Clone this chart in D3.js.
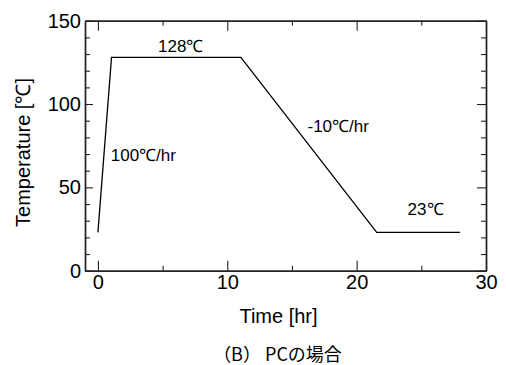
<!DOCTYPE html>
<html>
<head>
<meta charset="utf-8">
<script src="https://cdn.jsdelivr.net/npm/d3@7"></script>
<style>
  html, body { margin: 0; padding: 0; background: #fff; }
  svg { display: block; }
</style>
</head>
<body>
<svg id="chart" width="506" height="365"></svg>
<script>
// temperature profile (time in hr, temperature in degC)
const times = [0, 1.05, 11.05, 21.55, 28];
const temps = [23, 128, 128, 23, 23];

const xMajor = [0, 10, 20, 30];
const xMinor = [5, 15, 25];
const yMajor = [0, 50, 100, 150];
const yMinor = [10, 20, 30, 40, 60, 70, 80, 90, 110, 120, 130, 140];

// annotation texts, anchored in data units
const noteText = ["128℃", "100℃/hr", "-10℃/hr", "23℃"];
const noteX = [6.4, 0.99, 16.2, 23.94];
const noteY = [131.0, 65.8, 83.4, 33.2];
const noteAnchor = ["middle", "start", "start", "start"];

const FONT = "Liberation Sans";

const svg = d3.select("#chart");
const x = d3.scaleLinear().domain([-1, 30]).range([85, 486]);
const y = d3.scaleLinear().domain([0, 150]).range([270.7, 20.7]);

const axisColor = "#222";

function styleAxis(g) {
    g.attr("font-family", FONT).attr("font-size", 20);
    g.selectAll("path.domain").attr("stroke", axisColor).attr("stroke-width", 1.4);
    g.selectAll(".tick line").attr("stroke", axisColor).attr("stroke-width", 1.1);
    g.selectAll(".tick text").attr("fill", "#000");
}

// bottom
svg.append("g").attr("transform", `translate(0,${y(0)})`)
    .call(d3.axisBottom(x).tickValues(xMajor).tickSizeInner(-10).tickSizeOuter(0).tickPadding(4))
    .call(styleAxis);
svg.append("g").attr("transform", `translate(0,${y(0)})`)
    .call(d3.axisBottom(x).tickValues(xMinor).tickSizeInner(-5).tickSizeOuter(0).tickFormat(""))
    .call(styleAxis);
// top
svg.append("g").attr("transform", `translate(0,${y(150)})`)
    .call(d3.axisTop(x).tickValues(xMajor).tickSizeInner(-10).tickSizeOuter(0).tickFormat(""))
    .call(styleAxis);
svg.append("g").attr("transform", `translate(0,${y(150)})`)
    .call(d3.axisTop(x).tickValues(xMinor).tickSizeInner(-5).tickSizeOuter(0).tickFormat(""))
    .call(styleAxis);
// left
svg.append("g").attr("transform", `translate(${x(-1)},0)`)
    .call(d3.axisLeft(y).tickValues(yMajor).tickSizeInner(-8).tickSizeOuter(0).tickPadding(4))
    .call(styleAxis);
svg.append("g").attr("transform", `translate(${x(-1)},0)`)
    .call(d3.axisLeft(y).tickValues(yMinor).tickSizeInner(-5).tickSizeOuter(0).tickFormat(""))
    .call(styleAxis);
// right
svg.append("g").attr("transform", `translate(${x(30)},0)`)
    .call(d3.axisRight(y).tickValues(yMajor).tickSizeInner(-9).tickSizeOuter(0).tickFormat(""))
    .call(styleAxis);
svg.append("g").attr("transform", `translate(${x(30)},0)`)
    .call(d3.axisRight(y).tickValues(yMinor).tickSizeInner(-5).tickSizeOuter(0).tickFormat(""))
    .call(styleAxis);

// profile line
const pts = times.map((t, i) => [t, temps[i]]);
svg.append("path")
    .datum(pts)
    .attr("fill", "none")
    .attr("stroke", "#000")
    .attr("stroke-width", 1.3)
    .attr("d", d3.line().x(d => x(d[0])).y(d => y(d[1])));

// annotations
svg.append("g").attr("font-family", FONT).attr("font-size", 17)
    .selectAll("text")
    .data(noteText)
    .join("text")
    .attr("x", (d, i) => x(noteX[i]))
    .attr("y", (d, i) => y(noteY[i]))
    .attr("text-anchor", (d, i) => noteAnchor[i])
    .text(d => d);

// axis titles
svg.append("text")
    .attr("x", 278.5).attr("y", 323)
    .attr("text-anchor", "middle")
    .attr("font-family", FONT).attr("font-size", 20)
    .text("Time [hr]");

svg.append("text")
    .attr("transform", "translate(29.5,152.5) rotate(-90)")
    .attr("text-anchor", "middle")
    .attr("font-family", FONT).attr("font-size", 20)
    .text("Temperature [℃]");

// caption
svg.append("text")
    .attr("x", 277.5).attr("y", 361)
    .attr("text-anchor", "middle")
    .attr("font-size", 18)
    .attr("font-family", "Noto Sans CJK JP")
    .text("（B） PCの場合");
</script>
</body>
</html>
